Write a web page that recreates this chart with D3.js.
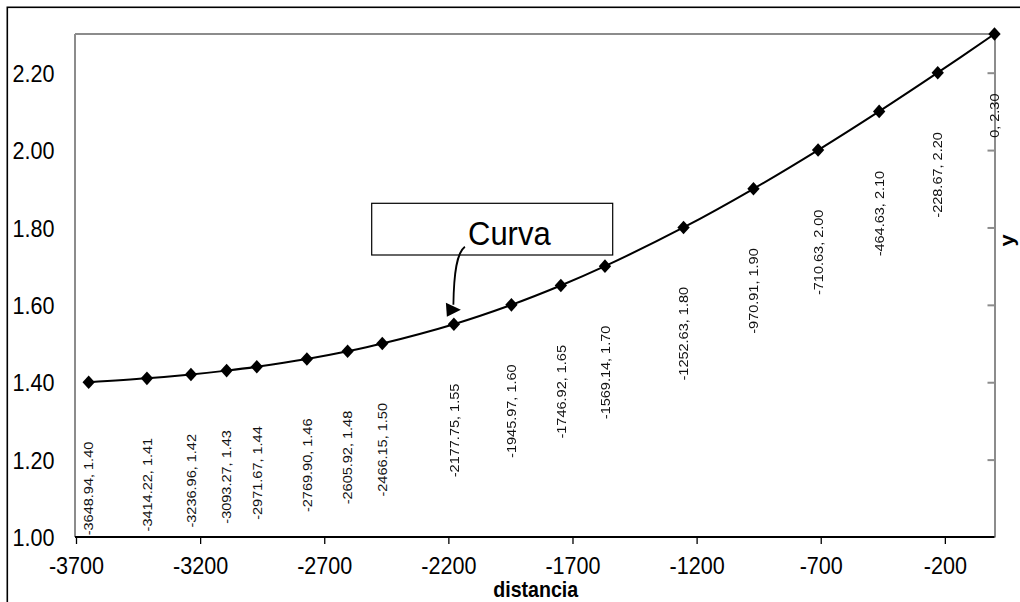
<!DOCTYPE html>
<html>
<head>
<meta charset="utf-8">
<script src="https://cdn.jsdelivr.net/npm/d3@7"></script>
<style>
  html, body { margin: 0; padding: 0; background: #fff; }
  svg { display: block; font-family: "Liberation Sans", Arial, sans-serif; }
</style>
</head>
<body>
<svg id="chart" width="1020" height="602"></svg>
<script>
// Profile points: distance along the section and level
const distancia = [-3648.94, -3414.22, -3236.96, -3093.27, -2971.67, -2769.90, -2605.92, -2466.15,
                   -2177.75, -1945.97, -1746.92, -1569.14, -1252.63, -970.91, -710.63, -464.63, -228.67, 0];
const nivel = [1.40, 1.41, 1.42, 1.43, 1.44, 1.46, 1.48, 1.50,
               1.55, 1.60, 1.65, 1.70, 1.80, 1.90, 2.00, 2.10, 2.20, 2.30];
const xTicks = [-3700, -3200, -2700, -2200, -1700, -1200, -700, -200];
const yTicks = [1.00, 1.20, 1.40, 1.60, 1.80, 2.00, 2.20];
const xTitle = "distancia";
const yTitle = "y";
const noteText = "Curva";
const notePoint = 8; // index of the point the note arrow refers to

const points = distancia.map((d, i) => ({ x: d, y: nivel[i] }));

const SY = 1.1; // vertical stretch applied to text and markers
const svg = d3.select("#chart");

const plotL = 75, plotR = 994.5, plotT = 34, plotB = 537;
const x = d3.scaleLinear().domain([-3700, 0]).range([76, plotR]);
const y = d3.scaleLinear().domain([1.0, 2.3]).range([plotB, plotT]);

// outer frame
svg.append("rect")
  .attr("x", 7.3).attr("y", 7.3).attr("width", 1100).attr("height", 700)
  .attr("fill", "none").attr("stroke", "#000").attr("stroke-width", 1.6);

// plot-area frame: grey top and left edges
svg.append("line").attr("x1", plotL).attr("x2", plotR).attr("y1", plotT).attr("y2", plotT)
  .attr("stroke", "#8c8c8c").attr("stroke-width", 2);
svg.append("line").attr("x1", plotL).attr("x2", plotL).attr("y1", plotT).attr("y2", plotB)
  .attr("stroke", "#8c8c8c").attr("stroke-width", 2);

// right-hand secondary axis with inward ticks, no labels
const yRight = svg.append("g").attr("transform", `translate(${plotR},0)`)
  .call(d3.axisLeft(y).tickValues(yTicks.slice(1)).tickSize(7).tickSizeOuter(0).tickFormat(""));
yRight.selectAll("path, line").attr("stroke", "#8c8c8c").attr("stroke-width", 2);

// left tick labels
const yLeft = svg.append("g").attr("transform", `translate(54.5,0)`)
  .call(d3.axisLeft(y).tickValues(yTicks).tickSize(0).tickPadding(0).tickFormat(d3.format(".2f")));
yLeft.select(".domain").remove();
yLeft.selectAll("text")
  .attr("x", 0).attr("dy", null).attr("y", 0)
  .attr("text-anchor", "end")
  .attr("transform", `translate(0,8.7) scale(1,${SY})`)
  .attr("font-size", 21.6).attr("font-family", "Liberation Sans, Arial, sans-serif").attr("fill", "#000");

// bottom axis
const xAxis = svg.append("g").attr("transform", `translate(0,${plotB})`)
  .call(d3.axisBottom(x).tickValues(xTicks).tickSize(7).tickSizeOuter(0).tickFormat(d => String(d)));
xAxis.select(".domain").attr("d", `M${plotL},0H${plotR}`).attr("stroke", "#000").attr("stroke-width", 2);
xAxis.selectAll(".tick line").attr("stroke", "#000").attr("stroke-width", 1.3);
xAxis.selectAll("text")
  .attr("y", 0).attr("dy", null)
  .attr("transform", `translate(0,37) scale(1,${SY})`)
  .attr("font-size", 21.6).attr("font-family", "Liberation Sans, Arial, sans-serif").attr("fill", "#000");

// axis titles
svg.append("text")
  .attr("transform", `translate(535.7,597) scale(1,${SY})`)
  .attr("text-anchor", "middle").attr("font-weight", "bold").attr("font-size", 19.6)
  .text(xTitle);
svg.append("text")
  .attr("transform", `translate(1014,240.5) scale(1,${SY}) rotate(-90)`)
  .attr("text-anchor", "middle").attr("font-weight", "bold").attr("font-size", 20)
  .text(yTitle);

// smooth profile line
const line = d3.line().x(d => x(d.x)).y(d => y(d.y)).curve(d3.curveCatmullRom.alpha(0.5));
svg.append("path").datum(points)
  .attr("d", line).attr("fill", "none").attr("stroke", "#000").attr("stroke-width", 2);

// diamond markers, slightly soft
const defs = svg.append("defs");
defs.append("filter").attr("id", "soft").attr("x", "-50%").attr("y", "-50%").attr("width", "200%").attr("height", "200%")
  .append("feGaussianBlur").attr("stdDeviation", 0.7);
const diamond = d3.symbol().type(d3.symbolSquare).size(76);
svg.append("g").attr("filter", "url(#soft)")
  .selectAll("path").data(points).join("path")
  .attr("d", diamond)
  .attr("transform", d => `translate(${x(d.x)},${y(d.y)}) scale(1,${SY}) rotate(45)`)
  .attr("fill", "#000");

// rotated data labels under each point
const fmtX = v => (v === 0 ? "0" : v.toFixed(2));
svg.append("g").selectAll("text").data(points).join("text")
  .attr("transform", d => `translate(${x(d.x)},${y(d.y) + 59.5}) scale(1,${SY}) rotate(-90)`)
  .attr("text-anchor", "end").attr("dy", "0.36em")
  .attr("font-size", 13.2).attr("fill", "#111")
  .text(d => `${fmtX(d.x)}, ${d.y.toFixed(2)}`);

// note box with curved arrow
svg.append("rect")
  .attr("x", 371.7).attr("y", 203.3).attr("width", 241).attr("height", 51.7)
  .attr("fill", "#fff").attr("stroke", "#000").attr("stroke-width", 1.2);
svg.append("text")
  .attr("transform", `translate(468,245) scale(1,${SY})`)
  .attr("font-size", 31).text(noteText);

const tp = points[notePoint];
const tx = x(tp.x) - 7, ty = y(tp.y) - 7.5;
svg.append("path")
  .attr("d", `M${tx + 18},${ty - 70} C${tx + 10},${ty - 64} ${tx + 7},${ty - 45} ${tx + 6.5},${ty - 12}`)
  .attr("fill", "none").attr("stroke", "#000").attr("stroke-width", 1.8);
svg.append("path")
  .attr("d", `M${tx},${ty} L${tx - 1},${ty - 14} L${tx + 14},${ty - 7} Z`)
  .attr("fill", "#000");
</script>
</body>
</html>
